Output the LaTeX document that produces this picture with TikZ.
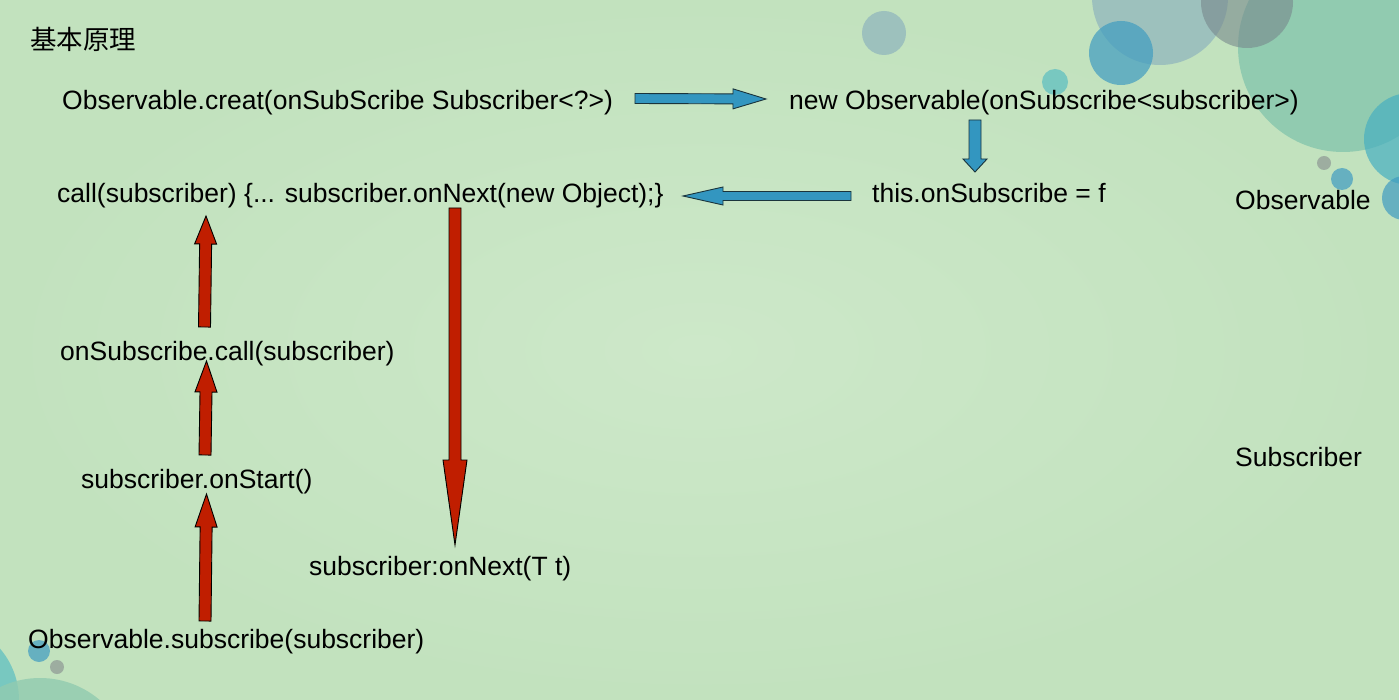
\documentclass[tikz,border=0pt]{standalone}
\usepackage{fontspec}
\setmainfont{Liberation Sans}
\newfontfamily\cjk{Noto Sans CJK SC}
\usetikzlibrary{calc}

\definecolor{bggreen}{RGB}{194,226,190}
\definecolor{bglight}{RGB}{205,232,201}
\definecolor{arrowblue}{RGB}{51,150,192}
\definecolor{arrowline}{RGB}{26,52,60}
\definecolor{arrowred}{RGB}{192,30,0}
\definecolor{greyblue}{RGB}{157,193,189}
\definecolor{darkgrey}{RGB}{119,136,140}
\definecolor{seablue}{RGB}{64,156,193}
\definecolor{lagoon}{RGB}{71,175,193}
\definecolor{teal}{RGB}{145,203,176}
\definecolor{aqua}{RGB}{120,200,192}
\definecolor{pebble}{RGB}{157,173,160}

\begin{document}
\begin{tikzpicture}[
    x=1pt, y=-1pt,
    code/.style={anchor=base west, inner sep=0pt, font=\fontsize{26.5}{30}\selectfont},
    bubble/.style={fill=#1},
    blockarrow/.style n args={3}{to path={
        ($(\tikztotarget)!#3!(\tikztostart)$) coordinate (hb)
        ($(\tikztostart)!#1!90:(\tikztotarget)$)
        -- ($(hb)!#1!90:(\tikztotarget)$)
        -- ($(hb)!#2!90:(\tikztotarget)$)
        -- (\tikztotarget)
        -- ($(hb)!#2!-90:(\tikztotarget)$)
        -- ($(hb)!#1!-90:(\tikztotarget)$)
        -- ($(\tikztostart)!#1!-90:(\tikztotarget)$)
        -- cycle}},
    bluearrow/.style={draw=arrowline, fill=arrowblue, line width=0.9pt, line join=miter},
    redarrow/.style={draw=black, fill=arrowred, line width=0.9pt, line join=miter}
]
    % background
    \useasboundingbox (0,0) rectangle (1399,700);
    \fill[bggreen] (0,0) rectangle (1399,700);
    \shade[inner color=bglight, outer color=bggreen] (0,0) rectangle (1399,700);

    % bubbles, top right
    \fill[bubble=greyblue] (884,33) circle[radius=22pt];
    \fill[bubble=greyblue] (1160,-3) circle[radius=68pt];
    \fill[bubble=teal] (1343,47) circle[radius=105pt];
    \fill[bubble=darkgrey, opacity=0.6] (1247,2) circle[radius=46pt];
    \fill[bubble=seablue, opacity=0.7] (1121,53) circle[radius=32pt];
    \fill[bubble=aqua] (1055,82) circle[radius=13pt];
    \fill[bubble=lagoon, opacity=0.7] (1410,139) circle[radius=46pt];
    \fill[bubble=pebble] (1324,163) circle[radius=7pt];
    \fill[bubble=seablue, opacity=0.7] (1342,179) circle[radius=11pt];
    \fill[bubble=seablue, opacity=0.7] (1404,198) circle[radius=22pt];

    % bubbles, bottom left
    \fill[bubble=aqua] (-60,700) circle[radius=79pt];
    \fill[bubble=teal, opacity=0.8] (40,770) circle[radius=92pt];
    \fill[bubble=seablue, opacity=0.7] (39,651) circle[radius=11pt];
    \fill[bubble=pebble] (57,667) circle[radius=7pt];

    % texts
    \node[code] (title) at (30,50) {\cjk 基本原理};
    \node[code] (create) at (62,110) {Observable.creat(onSubScribe Subscriber<?>)};
    \node[code] (newobs) at (789,110) {new Observable(onSubscribe<subscriber>)};
    \node[code] (callsub) at (57,203) {call(subscriber) \{... subscriber.onNext(new Object);\}};
    \node[code] (assign) at (872,203) {this.onSubscribe = f};
    \node[code] (obslabel) at (1235,210) {Observable};
    \node[code] (oncall) at (60,360) {onSubscribe.call(subscriber)};
    \node[code] (onstart) at (81,488) {subscriber.onStart()};
    \node[code] (onnext) at (309,575) {subscriber:onNext(T t)};
    \node[code] (subscribe) at (28,648) {Observable.subscribe(subscriber)};
    \node[code] (sublabel) at (1235,466) {Subscriber};

    % arrow ends
    \coordinate (b1s) at (635,98.5);
    \coordinate (b1e) at (766,99);
    \coordinate (b2s) at (975,120);
    \coordinate (b2e) at (975,172);
    \coordinate (b3s) at (851,196);
    \coordinate (b3e) at (683,196);
    \coordinate (r1s) at (205,621);
    \coordinate (r1e) at (206.5,494);
    \coordinate (r2s) at (205,455);
    \coordinate (r2e) at (206.5,361);
    \coordinate (r3s) at (204.5,327);
    \coordinate (r3e) at (206,216);
    \coordinate (r4s) at (455,208);
    \coordinate (r4e) at (455,545);

    % blue arrows
    \draw[bluearrow, blockarrow={5pt}{10pt}{33pt}] (b1s) to (b1e);
    \draw[bluearrow, blockarrow={6pt}{12pt}{13pt}] (b2s) to (b2e);
    \draw[bluearrow, blockarrow={4.5pt}{9pt}{40pt}] (b3s) to (b3e);

    % red arrows
    \draw[redarrow, blockarrow={6pt}{11pt}{33pt}] (r1s) to (r1e);
    \draw[redarrow, blockarrow={6pt}{11pt}{31pt}] (r2s) to (r2e);
    \draw[redarrow, blockarrow={6pt}{11pt}{28pt}] (r3s) to (r3e);
    \draw[redarrow, blockarrow={6pt}{12pt}{85pt}] (r4s) to (r4e);
\end{tikzpicture}
\end{document}
